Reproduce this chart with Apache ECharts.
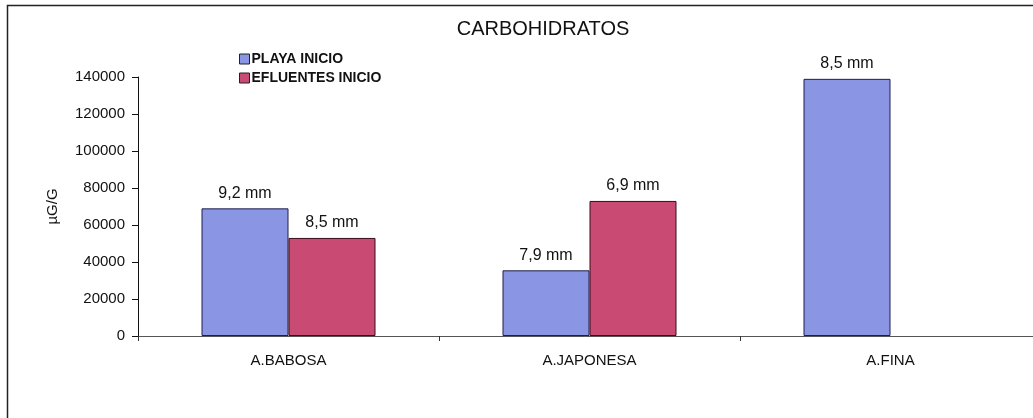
<!DOCTYPE html>
<html>
<head>
<meta charset="utf-8">
<style>
  html, body { margin: 0; padding: 0; background: #fff; }
  #chart { width: 1033px; height: 418px; }
</style>
<script src="https://cdn.jsdelivr.net/npm/echarts@6/dist/echarts.min.js"></script>
</head>
<body>
<div id="chart"></div>
<script>
  const categories = ['A.BABOSA', 'A.JAPONESA', 'A.FINA'];
  const playaValues = [69000, 35500, 139000];
  const efluentesValues = [53000, 73000, null];
  const playaLabels = ['9,2 mm', '7,9 mm', '8,5 mm'];
  const efluentesLabels = ['8,5 mm', '6,9 mm', ''];
  const yTicks = { min: 0, max: 140000, interval: 20000 };

  const font = 'Arial, "Liberation Sans", sans-serif';

  const chart = echarts.init(document.getElementById('chart'));
  chart.setOption({
    backgroundColor: '#fff',
    animation: false,
    textStyle: { fontFamily: font, color: '#111' },
    graphic: [
      {
        type: 'rect',
        shape: { x: 7.5, y: 5.5, width: 1040, height: 430 },
        style: { fill: 'none', stroke: '#222', lineWidth: 1.5 },
        silent: true
      }
    ],
    title: {
      text: 'CARBOHIDRATOS',
      left: 538,
      textAlign: 'center',
      top: 14,
      textStyle: { fontFamily: font, fontSize: 20, fontWeight: 'normal', color: '#111' }
    },
    legend: {
      orient: 'vertical',
      left: 234,
      top: 47,
      itemWidth: 10,
      itemHeight: 10,
      itemGap: 5,
      icon: 'rect',
      itemStyle: { borderColor: '#222', borderWidth: 1 },
      textStyle: { fontFamily: font, fontSize: 14, fontWeight: 'bold', color: '#111', padding: [0, 0, 0, -3] },
      data: ['PLAYA INICIO', 'EFLUENTES INICIO']
    },
    grid: { left: 138, width: 903, top: 77, bottom: 82, outerBoundsMode: 'none' },
    xAxis: {
      type: 'category',
      data: categories,
      axisLine: { lineStyle: { color: '#555', width: 1 } },
      axisTick: { show: true, length: 5, lineStyle: { color: '#333' } },
      axisLabel: { fontFamily: font, fontSize: 15, color: '#111', margin: 17 }
    },
    yAxis: {
      type: 'value',
      min: yTicks.min,
      max: yTicks.max,
      interval: yTicks.interval,
      name: 'µG/G',
      nameLocation: 'middle',
      nameGap: 78,
      nameRotate: 90,
      nameTextStyle: { fontFamily: font, fontSize: 15, color: '#111' },
      axisLine: { show: true, lineStyle: { color: '#111', width: 1 } },
      axisTick: { show: true, length: 6, lineStyle: { color: '#111' } },
      axisLabel: {
        fontFamily: font,
        fontSize: 15,
        color: '#111',
        margin: 13,
        formatter: (v) => String(v)
      },
      splitLine: { show: false }
    },
    series: [
      {
        name: 'PLAYA INICIO',
        type: 'bar',
        data: playaValues,
        barWidth: 87,
        barGap: '0%',
        itemStyle: { color: '#8a95e4', borderColor: '#1c1f4a', borderWidth: 1 },
        label: {
          show: true,
          position: 'top',
          distance: 7,
          fontFamily: font,
          fontSize: 16,
          color: '#111',
          formatter: (p) => playaLabels[p.dataIndex]
        }
      },
      {
        name: 'EFLUENTES INICIO',
        type: 'bar',
        data: efluentesValues,
        barWidth: 87,
        barGap: '0%',
        itemStyle: { color: '#c94a73', borderColor: '#3a0c1c', borderWidth: 1 },
        label: {
          show: true,
          position: 'top',
          distance: 7,
          fontFamily: font,
          fontSize: 16,
          color: '#111',
          formatter: (p) => efluentesLabels[p.dataIndex]
        }
      }
    ]
  });
</script>
</body>
</html>
